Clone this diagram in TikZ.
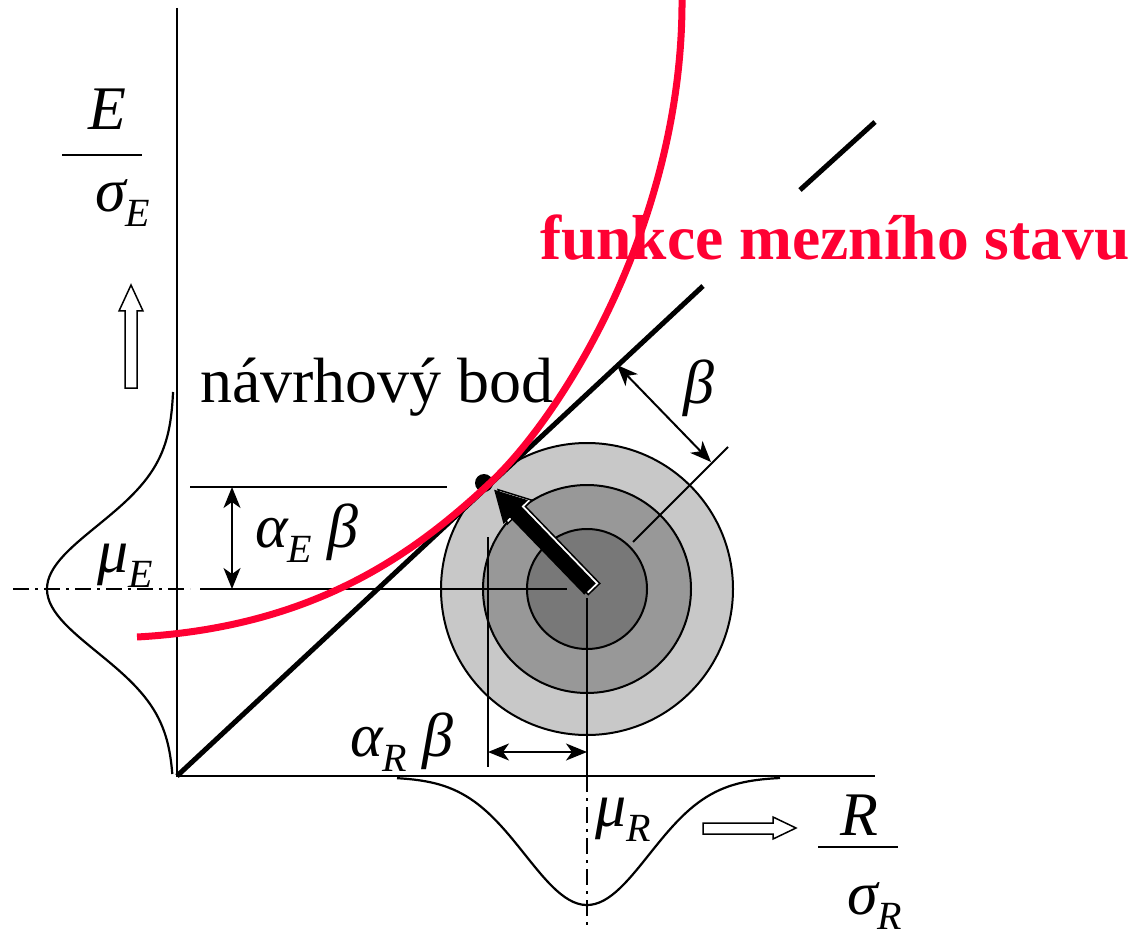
\documentclass[tikz,border=0pt]{standalone}
\usepackage{fontspec}
\setmainfont{Liberation Serif}
\usetikzlibrary{arrows.meta}
\definecolor{limitred}{RGB}{255,0,51}
\definecolor{ringA}{RGB}{200,200,200}
\definecolor{ringB}{RGB}{152,152,152}
\definecolor{ringC}{RGB}{120,120,120}
\newcommand\lsub[1]{\raisebox{-15pt}{\fontsize{40}{40}\selectfont #1}}
\begin{document}
\begin{tikzpicture}[x=1pt,y=-1pt,
  axisline/.style={line width=2pt},
  ring/.style={line width=2pt},
  lbl/.style={inner sep=0pt, anchor=base west, font=\fontsize{62}{70}\selectfont\itshape},
  txt/.style={inner sep=0pt, anchor=base west, font=\fontsize{64}{70}\selectfont},
  dimarrow/.style={line width=2pt, {Stealth[length=21pt,width=17pt,inset=6pt]}-{Stealth[length=21pt,width=17pt,inset=6pt]}},
  dashdot/.style={line width=2pt, dash pattern=on 16pt off 6pt on 3pt off 6pt},
  hollow/.style={fill=white, draw=black, line width=1.5pt, line join=miter},
  bell/.style={line width=2.2pt},
]
\useasboundingbox (0,0) rectangle (1135,933);

% concentric circles
\coordinate (C) at (587,589);
\filldraw[ring, fill=ringA] (C) circle (146);
\filldraw[ring, fill=ringB] (C) circle (104);
\filldraw[ring, fill=ringC] (C) circle (60);

% axes
\coordinate (O) at (177,776);
\coordinate (Ytop) at (177,8);
\coordinate (Xend) at (875,776);
\draw[axisline] (Ytop) -- (O) -- (Xend);

% linearised limit state line
\coordinate (D1) at (703,286);
\coordinate (D2) at (800,190);
\coordinate (D3) at (875,122);
\draw[line width=5pt] (O) -- (D1);
\draw[line width=5pt] (D2) -- (D3);

% density curves
\draw[bell] plot[domain=392:774, samples=90, variable=\t]
  ({174-127*exp(-0.5*((\t-589)/63)*((\t-589)/63))}, \t);
\draw[bell] plot[domain=397:780, samples=90, variable=\t]
  (\t, {777+128*exp(-0.5*((\t-587)/62)*((\t-587)/62))});

% guide lines
\coordinate (ME0) at (13,589);
\coordinate (ME1) at (190,589);
\coordinate (ME2) at (200,589);
\coordinate (ME3) at (567,589);
\draw[dashdot] (ME0) -- (ME1);
\draw[axisline] (ME2) -- (ME3);
\coordinate (AE0) at (190,487);
\coordinate (AE1) at (447,487);
\draw[axisline] (AE0) -- (AE1);
\coordinate (VR0) at (488,537);
\coordinate (VR1) at (488,767);
\draw[axisline] (VR0) -- (VR1);
\coordinate (MR0) at (587,598);
\coordinate (MR1) at (587,776);
\coordinate (MR2) at (587,930);
\draw[axisline] (MR0) -- (MR1);
\draw[dashdot] (MR1) -- (MR2);

% dimension arrows
\coordinate (AEa) at (232,487);
\coordinate (AEb) at (232,589);
\draw[dimarrow] (AEa) -- (AEb);
\coordinate (ARa) at (488,752);
\coordinate (ARb) at (587,752);
\draw[dimarrow] (ARa) -- (ARb);
\coordinate (BX0) at (633,542);
\coordinate (BX1) at (728,447);
\draw[axisline] (BX0) -- (BX1);
\coordinate (Ba) at (617,365);
\coordinate (Bb) at (711,462);
\draw[dimarrow] (Ba) -- (Bb);

% big arrow from mean point to design point
\begin{scope}[shift={(594,589)}, rotate=134]
  \filldraw[fill=white, draw=black, line width=1.5pt]
    (0,-8) -- (107,-8) -- (107,-17) -- (138,0) -- (107,17) -- (107,8) -- (0,8) -- cycle;
\end{scope}
\begin{scope}[shift={(590,589)}, rotate=134]
  \fill[black]
    (0,-8) -- (107,-8) -- (107,-17) -- (138,0) -- (107,17) -- (107,8) -- (0,8) -- cycle;
\end{scope}
\coordinate (DP) at (484,483);
\fill[black] (DP) circle (9);

% limit state function
\coordinate (L0) at (137,637);
\coordinate (L1) at (490,483);
\coordinate (L2) at (682,-4);
\draw[limitred, line width=7pt]
  (L0) .. controls (317,627) and (417,551) .. (L1)
       .. controls (563,415) and (684,220) .. (L2);

% hollow direction arrows
\draw[hollow] (125,388) -- (137,388) -- (137,311) -- (143,311) -- (131,285)
  -- (119,311) -- (125,311) -- cycle;
\draw[hollow] (703,823) -- (773,823) -- (773,817) -- (796,828) -- (773,839)
  -- (773,834) -- (703,834) -- cycle;

% labels
\node[txt] (nb) at (200,402) {návrhový bod};
\node[inner sep=0pt, anchor=base west, text=limitred,
  font=\fontsize{63.5}{70}\selectfont\bfseries] (fms) at (540,260) {funkce mezního stavu};
\node[lbl] (aEb) at (255,547) {α\lsub{E} β};
\node[lbl] (aRb) at (350,756) {α\lsub{R} β};
\node[lbl] (bt) at (683,403) {β};
\node[lbl] (muE) at (97,572) {μ\lsub{E}};
\node[lbl] (muR) at (595,826) {μ\lsub{R}};

% axis fractions
\node[lbl] (En) at (88,130) {E};
\coordinate (EF0) at (62,155);
\coordinate (EF1) at (142,155);
\draw[axisline] (EF0) -- (EF1);
\node[lbl] (Ed) at (95,212) {σ\lsub{E}};
\node[lbl] (Rn) at (840,835) {R};
\coordinate (RF0) at (818,847);
\coordinate (RF1) at (898,847);
\draw[axisline] (RF0) -- (RF1);
\node[lbl] (Rd) at (847,914) {σ\lsub{R}};
\end{tikzpicture}
\end{document}
